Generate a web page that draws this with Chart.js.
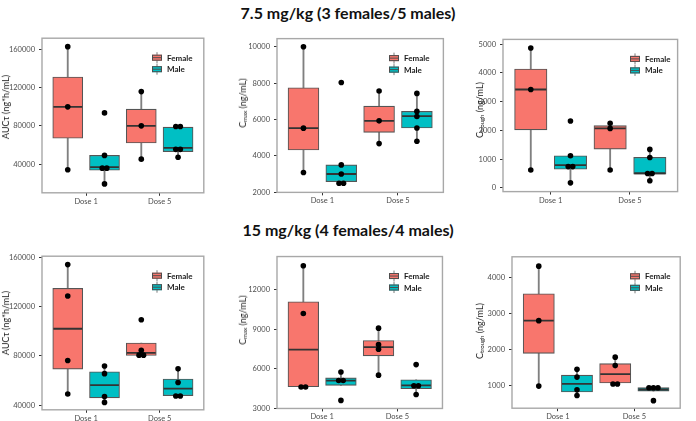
<!DOCTYPE html>
<html>
<head>
<meta charset="utf-8">
<script src="https://cdn.jsdelivr.net/npm/chart.js@4.4.1/dist/chart.umd.min.js"></script>
<style>
html, body { margin: 0; padding: 0; background: #fff; overflow: hidden; }
#wrap { position: relative; width: 696px; height: 421px; font-family: Lato, "Open Sans", sans-serif; }
.title { position: absolute; left: 0; width: 696px; text-align: center; font-weight: bold; font-size: 16px; color: #111; line-height: 18px; }
.ytitle { position: absolute; transform: translate(-50%, -50%) rotate(-90deg); white-space: nowrap; font-size: 9px; color: #222; line-height: 10px; }
.ytitle sub { font-size: 6px; vertical-align: -1px; }
canvas { position: absolute; }
</style>
</head>
<body>
<div id="wrap">
  <div class="title" style="top:4px">7.5 mg/kg (3 females/5 males)</div>
  <div class="title" style="top:221px">15 mg/kg (4 females/4 males)</div>
</div>
<script>
const doseLabels = ['Dose 1', 'Dose 5'];
const groupNames = ['Female', 'Male'];
const groupColors = ['#F8766D', '#00BFC4'];

// box stats are [lower whisker, q1, median, q3, upper whisker], one row per dose
// 7.5 mg/kg - AUCtau
const auc75Ticks = [40000, 80000, 120000, 160000];
const auc75FemaleDots = [[162700, 99900, 34400], [115800, 80100, 45400]];
const auc75MaleDots = [[93600, 49300, 36000, 36000, 19600], [79400, 79400, 55600, 55600, 47300]];
const auc75FemaleBox = [[34400, 67200, 99900, 131000, 162700], [45400, 62200, 80100, 97500, 115800]];
const auc75MaleBox = [[19600, 33800, 37000, 49300, 49300], [47300, 53300, 57200, 78700, 79400]];

// 7.5 mg/kg - Cmax
const cmax75Ticks = [2000, 4000, 6000, 8000, 10000];
const cmax75FemaleDots = [[10000, 5530, 3090], [7570, 5930, 4680]];
const cmax75MaleDots = [[8040, 3510, 3010, 2505, 2505], [7440, 6450, 6170, 5540, 4810]];
const cmax75FemaleBox = [[3090, 4330, 5530, 7750, 10000], [4680, 5300, 5930, 6740, 7570]];
const cmax75MaleBox = [[2505, 2590, 3010, 3510, 3510], [4810, 5540, 6190, 6450, 7440]];

// 7.5 mg/kg - Ctrough
const trough75Ticks = [0, 1000, 2000, 3000, 4000, 5000];
const trough75FemaleDots = [[4870, 3425, 620], [2250, 2070, 620]];
const trough75MaleDots = [[2330, 1120, 740, 740, 175], [1340, 1060, 500, 500, 250]];
const trough75FemaleBox = [[620, 2020, 3425, 4140, 4870], [620, 1350, 2070, 2165, 2250]];
const trough75MaleBox = [[175, 650, 795, 1120, 1120], [250, 480, 510, 1060, 1340]];

// 15 mg/kg - AUCtau
const auc15Ticks = [40000, 80000, 120000, 160000];
const auc15FemaleDots = [[154000, 128500, 76200, 49100], [109300, 84500, 80600, 80600]];
const auc15MaleDots = [[71800, 65600, 47000, 42300], [69500, 58400, 47500, 47500]];
const auc15FemaleBox = [[49100, 69300, 102000, 134700, 154000], [80300, 80300, 82400, 90400, 90400]];
const auc15MaleBox = [[42300, 46000, 56300, 67150, 71800], [47500, 47800, 53400, 61200, 69500]];

// 15 mg/kg - Cmax
const cmax15Ticks = [3000, 6000, 9000, 12000];
const cmax15FemaleDots = [[13800, 10190, 4630, 4630], [9080, 7830, 7480, 5520]];
const cmax15MaleDots = [[5760, 5120, 5120, 3610], [6320, 4720, 4720, 4060]];
const cmax15FemaleBox = [[4630, 4650, 7450, 11080, 13800], [5520, 6980, 7650, 8140, 9080]];
const cmax15MaleBox = [[4750, 4750, 5100, 5310, 5760], [4060, 4490, 4750, 5170, 5170]];

// 15 mg/kg - Ctrough
const trough15Ticks = [1000, 2000, 3000, 4000];
const trough15FemaleDots = [[4310, 2795, 975], [1780, 1545, 1035, 1035]];
const trough15MaleDots = [[1440, 1225, 870, 715], [930, 930, 930, 570]];
const trough15FemaleBox = [[975, 1885, 2795, 3540, 4310], [1035, 1060, 1310, 1600, 1780]];
const trough15MaleBox = [[715, 810, 1035, 1280, 1440], [835, 835, 880, 930, 930]];

// layout: plot box [left, top, right, bottom] in page pixels
const panels = [
  { plot: [42, 30, 218, 193], ylim: [10300, 171500], ticks: auc75Ticks,
    fDots: auc75FemaleDots, mDots: auc75MaleDots, fBox: auc75FemaleBox, mBox: auc75MaleBox,
    ytitle: 'AUCτ (ng*h/mL)', yt: [6, 107], legendX: 152 },
  { plot: [277, 30, 458, 193], ylim: [2000, 10450], ticks: cmax75Ticks,
    fDots: cmax75FemaleDots, mDots: cmax75MaleDots, fBox: cmax75FemaleBox, mBox: cmax75MaleBox,
    ytitle: 'C<sub>max</sub> (ng/mL)', yt: [243.5, 103], legendX: 389 },
  { plot: [503, 30, 693, 193], ylim: [-130, 5170], ticks: trough75Ticks,
    fDots: trough75FemaleDots, mDots: trough75MaleDots, fBox: trough75FemaleBox, mBox: trough75MaleBox,
    ytitle: 'C<sub>trough</sub> (ng/mL)', yt: [481, 110], legendX: 630 },
  { plot: [42, 248, 218, 410], ylim: [36300, 160800], ticks: auc15Ticks,
    fDots: auc15FemaleDots, mDots: auc15MaleDots, fBox: auc15FemaleBox, mBox: auc15MaleBox,
    ytitle: 'AUCτ (ng*h/mL)', yt: [6, 323], legendX: 152 },
  { plot: [277, 248, 457, 409], ylim: [3000, 14500], ticks: cmax15Ticks,
    fDots: cmax15FemaleDots, mDots: cmax15MaleDots, fBox: cmax15FemaleBox, mBox: cmax15MaleBox,
    ytitle: 'C<sub>max</sub> (ng/mL)', yt: [243.5, 320], legendX: 389 },
  { plot: [512, 248, 695, 409], ylim: [360, 4570], ticks: trough15Ticks,
    fDots: trough15FemaleDots, mDots: trough15MaleDots, fBox: trough15FemaleBox, mBox: trough15MaleBox,
    ytitle: 'C<sub>trough</sub> (ng/mL)', yt: [481, 331], legendX: 630 }
];

const FONT = 'Lato, "Open Sans", sans-serif';

// panel border + inset legend
const panelDecor = {
  id: 'panelDecor',
  beforeDatasetsDraw(chart) {
    const { ctx, chartArea: a } = chart;
    ctx.save();
    ctx.strokeStyle = '#a8a8a8';
    ctx.lineWidth = 1.4;
    ctx.strokeRect(a.left, a.top, a.right - a.left, a.bottom - a.top);
    ctx.restore();
  },
  afterDraw(chart, args, opts) {
    const { ctx, chartArea: a } = chart;
    const x0 = opts.x;
    ctx.save();
    groupNames.forEach((name, s) => {
      const cy = a.top + 19.5 + s * 11.5;
      ctx.strokeStyle = '#7a7a7a';
      ctx.lineWidth = 1;
      ctx.beginPath();
      ctx.moveTo(x0 + 5, cy - 5.5);
      ctx.lineTo(x0 + 5, cy + 5.5);
      ctx.stroke();
      ctx.fillStyle = groupColors[s];
      ctx.fillRect(x0, cy - 3, 10, 6);
      ctx.strokeStyle = '#4d4d4d';
      ctx.strokeRect(x0 + 0.5, cy - 2.5, 9, 5);
      ctx.beginPath();
      ctx.moveTo(x0, cy);
      ctx.lineTo(x0 + 10, cy);
      ctx.stroke();
      ctx.fillStyle = '#1a1a1a';
      ctx.font = 'bold 8px ' + FONT;
      ctx.textBaseline = 'middle';
      ctx.fillText(name, x0 + 15, cy + 0.5);
    });
    ctx.restore();
  }
};

// dots sharing a value are laid side by side, centred on the box
function dotRow(vals, center, step) {
  const count = {}, seen = {};
  vals.forEach(v => { count[v] = (count[v] || 0) + 1; });
  return vals.map(v => {
    const k = seen[v] = (seen[v] || 0) + 1;
    return { x: center + (k - 1 - (count[v] - 1) / 2) * step, y: v };
  });
}

function makePanel(p) {
  const [L, T, R, B] = p.plot;
  const padL = 36, padT = 8, padR = 2, padB = 16;
  const cl = L - padL, ct = T - padT;
  const cw = R - L + padL + padR, ch = B - T + padT + padB;
  const cv = document.createElement('canvas');
  cv.width = cw; cv.height = ch;
  cv.style.left = cl + 'px'; cv.style.top = ct + 'px';
  cv.style.width = cw + 'px'; cv.style.height = ch + 'px';
  document.getElementById('wrap').appendChild(cv);

  const unit = (R - L) / 2.2;
  const boxW = 0.375 * unit;
  const step = 4.9 / unit;
  const datasets = [];

  groupNames.forEach((name, s) => {
    const box = s ? p.mBox : p.fBox;
    const dots = s ? p.mDots : p.fDots;
    const off = s ? 0.25 : -0.25;
    datasets.push({
      type: 'bar', label: name + ' whiskers',
      data: box.flatMap((b, i) => [{ x: i + 1 + off, y: [b[0], b[1]] }, { x: i + 1 + off, y: [b[3], b[4]] }]),
      backgroundColor: '#808080', barThickness: 1.2, grouped: false, order: 3
    });
    datasets.push({
      type: 'bar', label: name,
      data: box.map((b, i) => ({ x: i + 1 + off, y: [b[1], b[3]] })),
      backgroundColor: groupColors[s], borderColor: '#555', borderWidth: 1.1,
      borderSkipped: false, barThickness: boxW, grouped: false, order: 2
    });
    datasets.push({
      type: 'scatter', label: name + ' median',
      data: box.map((b, i) => ({ x: i + 1 + off, y: b[2] })),
      pointStyle: 'line', pointRadius: boxW / 2 - 0.6, pointBorderColor: '#333',
      pointBorderWidth: 1.8, order: 1
    });
    datasets.push({
      type: 'scatter', label: name + ' values',
      data: dots.flatMap((d, i) => dotRow(d, i + 1 + off, step)),
      pointRadius: 2.8, pointBackgroundColor: '#000', pointBorderColor: '#000',
      pointBorderWidth: 0, order: 0
    });
  });

  new Chart(cv, {
    type: 'bar',
    data: { datasets: datasets },
    plugins: [panelDecor],
    options: {
      responsive: false,
      devicePixelRatio: 1,
      animation: false,
      events: [],
      layout: { padding: { left: 0, top: padT, right: padR, bottom: 0 } },
      plugins: {
        legend: { display: false },
        tooltip: { enabled: false },
        panelDecor: { x: p.legendX - cl }
      },
      scales: {
        x: {
          type: 'linear', min: 0.4, max: 2.6, offset: false,
          grid: { offset: false, drawOnChartArea: false, drawTicks: true, tickLength: 3, color: '#333' },
          border: { display: false },
          afterBuildTicks: s => { s.ticks = doseLabels.map((d, i) => ({ value: i + 1 })); },
          afterFit: s => { s.height = padB; },
          ticks: {
            autoSkip: false, padding: 1, color: '#4d4d4d',
            font: { family: FONT, size: 7.5 },
            callback: v => doseLabels[v - 1]
          }
        },
        y: {
          type: 'linear', min: p.ylim[0], max: p.ylim[1],
          grid: { drawOnChartArea: false, drawTicks: true, tickLength: 3, color: '#333' },
          border: { display: false },
          afterBuildTicks: s => { s.ticks = p.ticks.map(v => ({ value: v })); },
          afterFit: s => { s.width = padL; },
          ticks: {
            padding: 4, color: '#4d4d4d',
            font: { family: FONT, size: 7.5 },
            callback: v => String(v)
          }
        }
      }
    }
  });

  const t = document.createElement('div');
  t.className = 'ytitle';
  t.innerHTML = p.ytitle;
  t.style.left = p.yt[0] + 'px';
  t.style.top = p.yt[1] + 'px';
  document.getElementById('wrap').appendChild(t);
}

panels.forEach(makePanel);
</script>
</body>
</html>
